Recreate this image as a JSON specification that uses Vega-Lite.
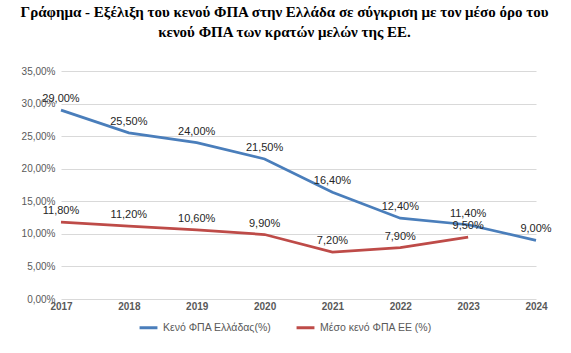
{
  "$schema": "https://vega.github.io/schema/vega-lite/v6.json",
  "width": 475,
  "height": 228,
  "autosize": {"type": "none"},
  "padding": {"left": 61, "top": 71, "right": 35, "bottom": 54},
  "config": {
    "locale": {"number": {"decimal": ",", "thousands": ".", "grouping": [3], "currency": ["", "€"]}},
    "view": {"stroke": null},
    "font": "Liberation Sans",
    "background": "white"
  },
  "title": {
    "text": ["Γράφημα - Εξέλιξη του κενού ΦΠΑ στην Ελλάδα σε σύγκριση με τον μέσο όρο του", "κενού ΦΠΑ των κρατών μελών της ΕΕ."],
    "font": "Liberation Sans Narrow",
    "fontSize": 15,
    "fontWeight": "bold",
    "color": "#000000",
    "anchor": "middle",
    "frame": "group",
    "dx": -14,
    "offset": 26,
    "lineHeight": 20
  },
  "data": {
    "values": [
      {"year": "2017", "series": "Κενό ΦΠΑ Ελλάδας(%)", "value": 0.29},
      {"year": "2018", "series": "Κενό ΦΠΑ Ελλάδας(%)", "value": 0.255},
      {"year": "2019", "series": "Κενό ΦΠΑ Ελλάδας(%)", "value": 0.24},
      {"year": "2020", "series": "Κενό ΦΠΑ Ελλάδας(%)", "value": 0.215},
      {"year": "2021", "series": "Κενό ΦΠΑ Ελλάδας(%)", "value": 0.164},
      {"year": "2022", "series": "Κενό ΦΠΑ Ελλάδας(%)", "value": 0.124},
      {"year": "2023", "series": "Κενό ΦΠΑ Ελλάδας(%)", "value": 0.114},
      {"year": "2024", "series": "Κενό ΦΠΑ Ελλάδας(%)", "value": 0.09},
      {"year": "2017", "series": "Μέσο κενό ΦΠΑ ΕΕ (%)", "value": 0.118},
      {"year": "2018", "series": "Μέσο κενό ΦΠΑ ΕΕ (%)", "value": 0.112},
      {"year": "2019", "series": "Μέσο κενό ΦΠΑ ΕΕ (%)", "value": 0.106},
      {"year": "2020", "series": "Μέσο κενό ΦΠΑ ΕΕ (%)", "value": 0.099},
      {"year": "2021", "series": "Μέσο κενό ΦΠΑ ΕΕ (%)", "value": 0.072},
      {"year": "2022", "series": "Μέσο κενό ΦΠΑ ΕΕ (%)", "value": 0.079},
      {"year": "2023", "series": "Μέσο κενό ΦΠΑ ΕΕ (%)", "value": 0.095}
    ]
  },
  "encoding": {
    "x": {
      "field": "year",
      "type": "ordinal",
      "scale": {"type": "point", "padding": 0},
      "axis": {
        "title": null,
        "labelAngle": 0,
        "labelFont": "Liberation Sans",
        "labelFontSize": 10,
        "labelFontWeight": "bold",
        "labelColor": "#595959",
        "domain": false,
        "ticks": false,
        "grid": false,
        "labelPadding": 2
      }
    },
    "y": {
      "field": "value",
      "type": "quantitative",
      "scale": {"domain": [0, 0.35], "nice": false},
      "axis": {
        "title": null,
        "values": [0, 0.05, 0.1, 0.15, 0.2, 0.25, 0.3, 0.35],
        "format": ".2%",
        "labelFont": "Liberation Sans",
        "labelFontSize": 10,
        "labelColor": "#595959",
        "domain": false,
        "ticks": false,
        "gridColor": "#d9d9d9",
        "gridWidth": 1,
        "labelPadding": 6
      }
    }
  },
  "layer": [
    {
      "mark": {"type": "line", "strokeWidth": 2.75},
      "encoding": {
        "color": {
          "field": "series",
          "type": "nominal",
          "scale": {"domain": ["Κενό ΦΠΑ Ελλάδας(%)", "Μέσο κενό ΦΠΑ ΕΕ (%)"], "range": ["#4a7ebb", "#be4b48"]},
          "legend": {
            "title": null,
            "orient": "none",
            "direction": "horizontal",
            "legendX": 77,
            "legendY": 246,
            "symbolType": "stroke",
            "symbolStrokeWidth": 3,
            "symbolSize": 320,
            "labelFont": "Liberation Sans",
            "labelFontSize": 10.5,
            "labelColor": "#595959",
            "columnPadding": 18
          }
        }
      }
    },
    {
      "mark": {"type": "text", "fontSize": 11, "color": "#262626", "baseline": "middle", "dy": -11, "font": "Liberation Sans"},
      "encoding": {
        "text": {"field": "value", "type": "quantitative", "format": ".2%"}
      }
    }
  ]
}
